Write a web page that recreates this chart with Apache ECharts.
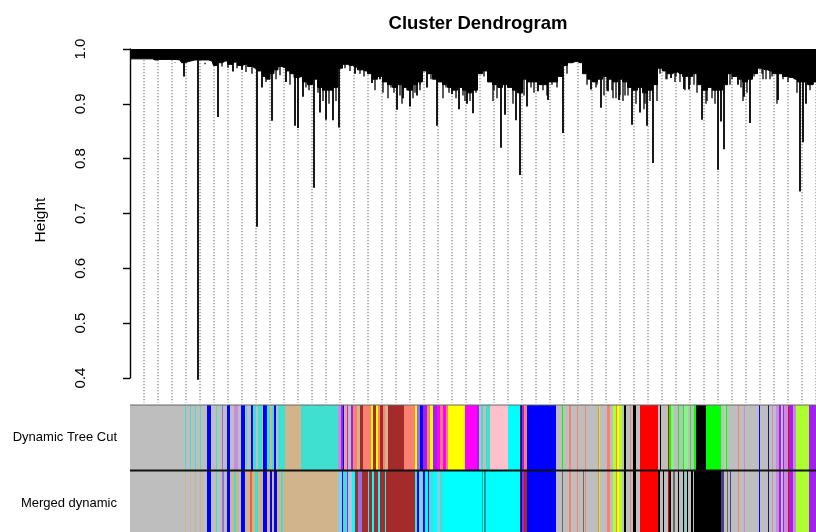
<!DOCTYPE html>
<html><head><meta charset="utf-8">
<script src="https://cdn.jsdelivr.net/npm/echarts@6/dist/echarts.min.js"></script>
<style>html,body{margin:0;padding:0;background:#fff}#c{width:816px;height:532px}</style>
</head><body><div id="c"></div>
<script>
// ---- data ----
const titleText = 'Cluster Dendrogram';
const yTicks = [0.4, 0.5, 0.6, 0.7, 0.8, 0.9, 1.0];
const rowLabels = ['Dynamic Tree Cut', 'Merged dynamic'];
const leafCount = 696;
// leaf positions of the fine (dotted) leaf lines
const leafGuide = [14,28,42,56,70,84,98,112,126,140,154,168,182,196,210,224,238,252,266,280,294,308,322,336,350,364,378,392,406,420,434,448,462,476,490,504,518,532,546,560,574,588,602,616,630,644,658,672,686];
// lower edge of the dense top merge mass
const canopyPos = [0,10,20,25,30,40,50,53,56,65,75,82,85,90,95,100,105,110,115,120,125,130,135,138,142,146,150,154,158,162,166,170,175,180,185,190,195,200,205,210,215,220,225,230,235,240,245,250,255,260,265,270,275,280,285,290,295,300,305,310,315,320,325,330,335,340,345,350,355,360,365,370,375,380,385,390,395,400,405,410,415,420,425,430,435,440,445,450,455,460,465,470,475,480,485,490,495,500,505,510,515,520,525,530,535,540,545,550,555,560,565,570,575,580,585,590,595,600,605,610,615,620,625,630,635,640,645,650,655,660,665,670,675,680,686,696];
const canopyLow = [0.982,0.982,0.982,0.980,0.981,0.981,0.980,0.975,0.978,0.980,0.980,0.978,0.970,0.975,0.978,0.972,0.976,0.970,0.972,0.968,0.965,0.960,0.950,0.945,0.955,0.962,0.968,0.965,0.960,0.955,0.948,0.950,0.940,0.935,0.945,0.930,0.925,0.925,0.930,0.965,0.972,0.970,0.968,0.962,0.960,0.955,0.945,0.950,0.940,0.935,0.930,0.935,0.930,0.925,0.935,0.940,0.960,0.955,0.945,0.940,0.935,0.930,0.925,0.930,0.925,0.920,0.925,0.955,0.960,0.940,0.935,0.930,0.935,0.930,0.925,0.920,0.945,0.940,0.940,0.935,0.935,0.940,0.940,0.950,0.970,0.975,0.977,0.975,0.955,0.945,0.940,0.945,0.950,0.945,0.940,0.945,0.940,0.930,0.925,0.930,0.920,0.925,0.935,0.965,0.960,0.955,0.958,0.955,0.950,0.950,0.955,0.935,0.925,0.930,0.925,0.925,0.935,0.955,0.950,0.945,0.940,0.945,0.955,0.965,0.962,0.960,0.955,0.955,0.950,0.948,0.945,0.940,0.940,0.935,0.940,0.940];
// deep branches: leaf position and merge height
const branchPos = [54,68,88,103,112,127,132,142,156,165,168,173,184,190,196,203,209,225,242,250,267,273,280,287,297,307,322,329,337,343,371,375,386,390,397,408,418,433,461,471,478,489,502,510,517,523,541,554,559,572,588,591,594,608,614,620,648,670,673,676];
const branchLow = [0.950,0.397,0.876,0.959,0.962,0.676,0.930,0.869,0.940,0.860,0.856,0.913,0.747,0.884,0.871,0.870,0.857,0.955,0.938,0.945,0.889,0.910,0.895,0.915,0.930,0.860,0.918,0.890,0.900,0.883,0.820,0.880,0.870,0.770,0.895,0.923,0.907,0.847,0.926,0.893,0.923,0.907,0.862,0.884,0.860,0.792,0.947,0.927,0.926,0.871,0.780,0.868,0.817,0.935,0.913,0.865,0.907,0.740,0.830,0.900];
// short branches
const twigPos = [33,45,75,92,98,107,116,122,136,146,150,160,176,179,188,193,199,206,215,232,238,247,255,261,264,270,277,283,290,301,316,319,326,333,340,346,354,364,367,379,382,394,401,404,413,422,427,437,457,466,474,482,486,493,498,506,514,520,530,536,546,550,564,567,576,582,585,597,602,611,617,624,632,636,642,653,658,663,667,680,683,220,226,230,234,245,253,258,272,285,290,313,335,363,383,417,467,477,483,490,495,515,527,537,545,555,560,577,600,613,633,640,647];
const twigLow = [0.975,0.976,0.972,0.968,0.966,0.965,0.958,0.955,0.940,0.945,0.952,0.935,0.930,0.925,0.920,0.905,0.900,0.905,0.965,0.962,0.958,0.950,0.950,0.930,0.920,0.915,0.925,0.910,0.935,0.945,0.930,0.920,0.910,0.915,0.905,0.920,0.950,0.925,0.910,0.945,0.930,0.915,0.930,0.920,0.925,0.935,0.930,0.955,0.935,0.930,0.915,0.925,0.910,0.905,0.915,0.900,0.890,0.905,0.955,0.945,0.950,0.940,0.935,0.920,0.900,0.910,0.900,0.935,0.945,0.930,0.920,0.950,0.955,0.945,0.950,0.945,0.940,0.948,0.920,0.925,0.935,0.960,0.965,0.955,0.950,0.925,0.920,0.910,0.900,0.920,0.925,0.910,0.905,0.905,0.900,0.915,0.935,0.925,0.910,0.915,0.915,0.900,0.905,0.945,0.940,0.925,0.935,0.905,0.935,0.905,0.945,0.945,0.900];
// module colours in leaf order (run lengths)
const cutModules = ['grey','turquoise','grey','turquoise','grey','turquoise','grey','turquoise','grey','blue','grey','turquoise','grey','mediumpurple','grey','blue','grey','plum','grey','blue','grey','turquoise','grey','blue','turquoise','grey','turquoise','grey','blue','turquoise','tan','turquoise','blue','grey','turquoise','tan','turquoise','plum','purple','blue','tan','magenta','grey','purple','salmon','tan','brown','salmon','yellow','brown','yellow','salmon','brown','salmon','tan','brown','salmon','yellow','mediumpurple','blue','purple','salmon','yellow','purple','magenta','salmon','magenta','salmon','yellow','magenta','purple','grey','turquoise','grey','turquoise','pink','cyan','midnightblue','purple','salmon','blue','grey','green','grey','salmon','grey','salmon','grey','salmon','grey','salmon','greenyellow','grey','salmon','grey','greenyellow','salmon','yellow','greenyellow','grey','black','grey','salmon','grey','black','grey','red','grey','black','grey','red','green','lightgreen','grey','green','grey','green','lightgreen','grey','green','grey','green','black','green','grey','lightgreen','green','grey','salmon','grey','plum','grey','blue','grey','midnightblue','grey','plum','grey','plum','purple','grey','purple','plum','red','purple','plum','greenyellow','purple'];
const cutSizes = [55,1,4,1,4,1,4,1,6,4,5,1,5,1,4,3,4,4,3,4,1,1,4,2,3,2,4,1,4,3,2,2,2,2,7,16,37,3,2,1,3,1,3,2,4,3,3,8,2,3,2,2,3,2,3,16,11,2,3,3,4,3,3,4,3,3,3,2,17,12,2,2,2,3,4,18,12,2,2,3,29,6,1,6,2,6,1,7,1,12,1,1,7,3,3,3,1,2,3,2,2,4,1,2,3,4,18,2,1,7,1,2,3,4,1,4,1,4,2,1,3,2,10,15,3,2,1,11,1,5,1,14,1,8,1,3,1,3,3,2,2,1,4,1,4,3,13,17];
const mergedModules = ['grey','tan','grey','tan','grey','tan','grey','tan','grey','blue','grey','turquoise','grey','mediumpurple','grey','blue','tan','turquoise','tan','grey','blue','tan','tomato','tan','turquoise','tan','blue','tan','blue','tan','blue','tan','turquoise','tan','skyblue','blue','turquoise','purple','lightsteelblue','cyan','brown','mediumpurple','brown','cyan','brown','cyan','brown','cyan','brown','cyan','brown','turquoise','blue','skyblue','blue','cyan','blue','turquoise','cyan','skyblue','turquoise','cyan','darkcyan','cyan','darkcyan','cyan','midnightblue','purple','brown','blue','grey','dimgrey','grey','salmon','grey','salmon','grey','dimgrey','grey','salmon','grey','salmon','greenyellow','grey','salmon','grey','greenyellow','salmon','yellow','greenyellow','grey','black','grey','salmon','grey','black','grey','red','black','grey','black','grey','red','black','grey','dimgrey','grey','black','grey','black','turquoise','grey','black','grey','black','grey','black','darkslateblue','grey','dimgrey','grey','darkslateblue','grey','salmon','grey','plum','grey','blue','grey','midnightblue','grey','plum','grey','plum','purple','grey','purple','plum','red','purple','plum','greenyellow','purple'];
const mergedSizes = [55,1,4,1,4,1,4,1,6,4,5,1,5,2,3,3,4,2,3,2,4,5,2,3,3,5,4,3,2,2,3,4,2,55,4,1,4,1,4,3,3,4,6,1,3,2,4,2,5,1,29,2,2,4,2,3,1,4,4,3,3,39,1,1,2,34,2,2,3,29,6,1,6,2,6,1,5,1,1,1,12,1,1,7,3,3,3,1,2,3,2,2,4,1,2,3,4,18,2,3,1,4,1,2,2,2,3,1,4,1,1,2,1,3,2,1,27,3,3,1,2,1,7,1,5,1,14,1,8,1,3,1,3,3,2,2,1,4,1,4,3,13,17];

// ---- styles ----
const palette = {
  grey:'#BEBEBE', turquoise:'#40E0D0', blue:'#0000FF', brown:'#A52A2A', yellow:'#FFFF00',
  green:'#00FF00', red:'#FF0000', black:'#000000', pink:'#FFC0CB', magenta:'#FF00FF',
  purple:'#A020F0', greenyellow:'#ADFF2F', tan:'#D2B48C', salmon:'#FA8072', cyan:'#00FFFF',
  midnightblue:'#191970', lightgreen:'#90EE90', plum:'#C98BDD', mediumpurple:'#9370DB',
  skyblue:'#87CEEB', lightsteelblue:'#B0C4DE', tomato:'#E8603C', darkcyan:'#12A5A5',
  dimgrey:'#696969', darkslateblue:'#483D8B'
};
const FONT = 'Liberation Sans, Arial, Helvetica, sans-serif';
const ROW_SPAN = 127 / 65.5; // visible part of the two colour rows

function runs(mods, sizes, row) {
  let s = 0;
  return mods.map((m, i) => { const a = s; s += sizes[i]; return [a, s, row, i]; });
}
const barData = runs(cutModules, cutSizes, 0).concat(runs(mergedModules, mergedSizes, 1));
const modsByRow = [cutModules, mergedModules];

function vline(width, color, top) {
  return (params, api) => {
    const a = api.coord([api.value(0), top]);
    const b = api.coord([api.value(0), api.value(1)]);
    return {type: 'line', shape: {x1: a[0], y1: a[1], x2: b[0], y2: b[1]},
      style: {stroke: color, lineWidth: width}};
  };
}

const chart = echarts.init(document.getElementById('c'), null, {renderer: 'canvas'});
chart.setOption({
  animation: false,
  backgroundColor: '#fff',
  title: {
    text: titleText, left: 473, top: 9, textAlign: 'center',
    textStyle: {fontFamily: FONT, fontSize: 18.5, fontWeight: 'bold', color: '#000'}
  },
  graphic: [{
    type: 'text', x: 41, y: 220, rotation: Math.PI / 2,
    style: {text: 'Height', fontFamily: FONT, fontSize: 15.5, fill: '#000', align: 'center', verticalAlign: 'middle'}
  }],
  grid: [
    {left: 102, top: 49, width: 714, height: 329},
    {left: 130, top: 405, width: 686, height: 127}
  ],
  xAxis: [
    {type: 'value', gridIndex: 0, min: -28, max: 686, show: false},
    {type: 'value', gridIndex: 1, min: 0, max: 686, show: false}
  ],
  yAxis: [
    {
      type: 'value', gridIndex: 0, min: yTicks[0], max: yTicks[yTicks.length - 1], interval: 0.1,
      axisLine: {show: true, lineStyle: {color: '#000', width: 1.4}},
      axisTick: {show: true, length: 7, lineStyle: {color: '#000', width: 1.4}},
      splitLine: {show: false},
      axisLabel: {rotate: 90, margin: 14, fontFamily: FONT, fontSize: 15, color: '#000',
        formatter: v => v.toFixed(1)}
    },
    {
      type: 'value', gridIndex: 1, min: 0, max: ROW_SPAN, inverse: true,
      axisLine: {show: false}, axisTick: {show: false}, splitLine: {show: false},
      axisLabel: {show: true, customValues: [0.5, 1.5], margin: 13, fontFamily: FONT, fontSize: 13, color: '#000',
        formatter: v => rowLabels[Math.floor(v)] || ''}
    }
  ],
  series: [
    {
      type: 'custom', xAxisIndex: 0, yAxisIndex: 0, clip: false, z: 1,
      data: leafGuide.map(x => [x, 0.355]),
      renderItem: (params, api) => {
        const a = api.coord([api.value(0), 0.985]);
        const b = api.coord([api.value(0), api.value(1)]);
        return {type: 'line', shape: {x1: a[0], y1: a[1], x2: b[0], y2: b[1]},
          style: {stroke: '#444', lineWidth: 1, lineDash: [1, 2]}};
      }
    },
    {
      type: 'line', xAxisIndex: 0, yAxisIndex: 0, z: 3, symbol: 'none', step: 'middle',
      data: canopyPos.map((x, i) => [x, canopyLow[i]]),
      lineStyle: {color: '#000', width: 1},
      areaStyle: {color: '#000', opacity: 1, origin: 'end'}
    },
    {
      type: 'custom', xAxisIndex: 0, yAxisIndex: 0, clip: false, z: 4,
      data: twigPos.map((x, i) => [x, twigLow[i]]),
      renderItem: vline(1.3, '#000', 0.975)
    },
    {
      type: 'custom', xAxisIndex: 0, yAxisIndex: 0, clip: false, z: 4,
      data: branchPos.map((x, i) => [x, branchLow[i]]),
      renderItem: vline(1.8, '#000', 0.98)
    },
    {
      type: 'custom', xAxisIndex: 1, yAxisIndex: 1, z: 2,
      data: barData,
      renderItem: (params, api) => {
        const p0 = api.coord([api.value(0), api.value(2)]);
        const p1 = api.coord([api.value(1), api.value(2) + 1]);
        const m = modsByRow[api.value(2)][api.value(3)];
        return {type: 'rect', shape: {x: p0[0], y: p0[1], width: p1[0] - p0[0], height: p1[1] - p0[1]},
          style: {fill: palette[m]}};
      }
    },
    {
      type: 'custom', xAxisIndex: 1, yAxisIndex: 1, z: 5, clip: false,
      data: [[0, 0], [1, 1]],
      renderItem: (params, api) => {
        const a = api.coord([0, api.value(1)]);
        const b = api.coord([leafCount, api.value(1)]);
        const top = api.value(0) === 0;
        return {type: 'line', shape: {x1: a[0], y1: a[1], x2: b[0], y2: b[1]},
          style: {stroke: top ? '#666' : '#111', lineWidth: top ? 1 : 2}};
      }
    }
  ]
});
</script></body></html>
